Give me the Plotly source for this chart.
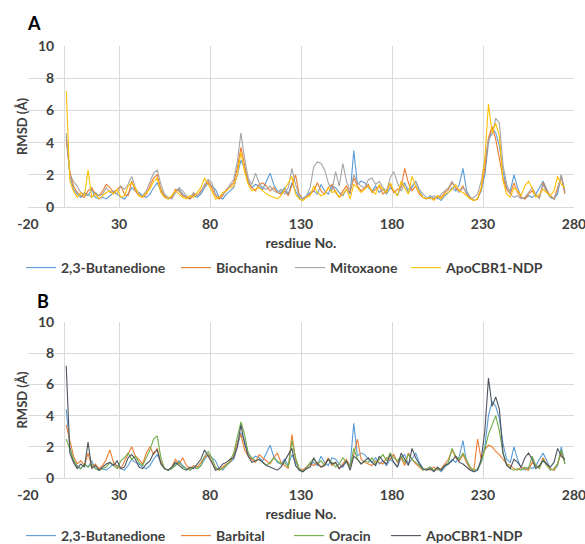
import plotly.graph_objects as go

# ---------------- data (RMSD in Å per residue) ----------------
residues = list(range(1, 276, 2))

butanedione = [
    4.4, 2.0, 1.1, 0.8, 0.6, 0.9, 0.7, 1.1, 0.6, 0.5,
    0.6, 0.5, 0.7, 0.9, 0.8, 0.6, 0.5, 0.8, 1.2, 1.0,
    0.9, 0.7, 0.6, 0.8, 1.2, 1.5, 1.0, 0.6, 0.5, 0.6,
    0.9, 1.1, 0.8, 0.6, 0.5, 0.7, 0.6, 0.8, 1.2, 1.5,
    1.3, 1.1, 0.6, 0.5, 0.8, 1.0, 1.2, 2.0, 2.9, 2.4,
    1.6, 1.2, 1.4, 1.3, 1.1, 1.6, 2.1, 1.4, 1.0, 0.9,
    1.2, 0.8, 1.5, 1.0, 0.6, 0.5, 0.7, 0.9, 1.0, 0.8,
    1.4, 1.0, 0.8, 1.3, 1.2, 0.9, 0.7, 1.1, 0.8, 3.5,
    1.4, 1.6, 1.5, 1.2, 1.0, 1.3, 0.9, 1.1, 0.8, 1.2,
    1.0, 0.7, 1.3, 1.5, 0.9, 1.2, 1.6, 1.0, 0.6, 0.5,
    0.7, 0.5, 0.6, 0.4, 0.7, 0.9, 1.2, 1.0, 1.4, 2.4,
    1.0, 0.6, 0.4, 0.5, 1.0, 2.0, 4.0, 4.9, 4.6, 3.8,
    2.2, 1.2, 1.0, 2.0, 1.2, 0.6, 0.5, 0.7, 0.6, 0.8,
    1.2, 1.6, 1.1, 0.6, 0.5, 0.8, 2.0, 0.9,
]

biochanin = [
    4.2, 2.2, 1.3, 0.9, 0.7, 0.6, 1.0, 1.2, 0.8, 0.7,
    1.0, 1.4, 1.2, 0.9, 1.1, 1.3, 0.8, 0.7, 1.6, 1.0,
    0.7, 0.6, 0.8, 1.3, 1.8, 2.0, 1.1, 0.7, 0.5, 0.6,
    1.1, 1.0, 0.7, 0.6, 0.5, 0.8, 0.7, 1.0, 1.3, 1.6,
    1.2, 0.7, 0.5, 0.7, 1.1, 1.3, 1.5, 2.4, 3.7, 2.6,
    1.5, 1.2, 1.0, 1.4, 1.5, 1.3, 1.0, 1.2, 0.9, 0.8,
    1.0, 0.7, 1.3, 2.0, 0.8, 0.5, 0.6, 0.8, 1.0, 1.5,
    1.0, 0.8, 1.2, 1.4, 0.9, 0.6, 1.0, 1.3, 0.9, 1.8,
    1.3, 1.0, 1.2, 1.4, 0.9, 1.1, 1.3, 0.8, 1.0, 1.4,
    0.9, 1.1, 1.2, 2.4, 1.5, 1.0, 1.3, 0.8, 0.6, 0.5,
    0.6, 0.5, 0.7, 0.6, 0.9, 1.1, 1.5, 1.2, 1.0, 1.3,
    0.8, 0.6, 0.4, 0.5, 1.1, 2.4, 4.3, 5.0, 4.2, 3.0,
    1.8, 1.1, 0.8, 1.5, 0.9, 0.6, 0.5, 0.8, 1.0, 0.7,
    0.6, 1.5, 1.0, 0.7, 0.5, 1.2, 1.9, 0.8,
]

mitoxaone = [
    4.6, 2.0, 1.6, 1.3, 0.9, 0.7, 0.8, 0.6, 0.9, 0.7,
    0.8, 1.2, 0.9, 1.0, 0.8, 1.3, 1.1, 1.4, 1.9, 1.2,
    0.8, 0.7, 1.0, 1.6, 2.1, 2.3, 1.4, 0.8, 0.6, 0.5,
    0.9, 1.2, 1.0, 0.7, 0.6, 0.9, 0.7, 0.9, 1.4, 1.7,
    1.5, 0.8, 0.6, 0.8, 1.0, 1.4, 1.7, 2.8, 4.6, 3.0,
    1.8, 1.4, 2.1, 1.5, 1.2, 1.1, 1.3, 1.0, 0.9, 1.1,
    0.8, 1.2, 2.4, 1.4, 0.7, 0.5, 0.7, 1.2, 2.5, 2.8,
    2.7, 2.3, 1.5, 1.0, 2.2, 1.3, 2.7, 1.6, 1.0, 2.0,
    1.5, 1.3, 1.2, 1.7, 1.8, 1.4, 1.6, 1.2, 1.0, 1.8,
    2.2, 1.5, 1.0, 1.4, 1.1, 1.3, 1.6, 1.1, 0.8, 0.6,
    0.5, 0.7, 0.5, 0.8, 1.0, 1.2, 1.6, 1.1, 0.9, 1.2,
    0.9, 0.5, 0.6, 0.8, 1.6, 3.0, 4.2, 4.5, 5.5, 5.2,
    2.6, 1.4, 0.8, 0.6, 0.7, 0.5, 0.6, 0.9, 1.2, 0.8,
    0.5, 1.4, 0.9, 0.6, 0.5, 1.0, 2.0, 1.0,
]

apo_ndp = [
    7.2, 1.6, 1.0, 0.6, 0.9, 0.7, 2.3, 0.6, 0.8, 0.5,
    0.7, 0.9, 1.0, 0.8, 1.1, 0.6, 0.7, 1.3, 1.5, 1.2,
    0.7, 0.6, 0.9, 1.1, 1.6, 1.8, 0.9, 0.6, 0.5, 0.7,
    1.0, 0.8, 0.6, 0.5, 0.7, 0.6, 0.9, 1.2, 1.8, 1.4,
    1.0, 0.5, 0.6, 0.9, 1.0, 1.2, 1.3, 2.0, 3.4, 2.2,
    1.4, 1.0, 1.1, 1.2, 1.0, 0.8, 0.7, 0.6, 0.5, 0.7,
    1.1, 1.5, 1.9, 0.8, 0.5, 0.4, 0.6, 0.7, 1.3, 0.9,
    0.7, 0.8, 1.2, 0.9, 1.0, 0.6, 0.8, 1.1, 0.5, 1.4,
    1.2, 0.9, 1.1, 1.3, 1.0, 0.8, 1.4, 1.1, 0.9, 1.5,
    1.0, 0.7, 1.6, 1.2, 0.8, 1.9, 1.3, 0.9, 0.6, 0.5,
    0.6, 0.4, 0.7, 0.5, 0.8, 0.9, 1.1, 1.4, 1.0, 0.9,
    0.7, 0.5, 0.4, 0.5, 1.2, 3.0, 6.4, 4.6, 5.2, 4.4,
    1.6, 0.8, 0.6, 1.2, 1.0, 0.7, 1.3, 1.6, 1.2, 0.6,
    0.8, 1.1, 0.9, 0.7, 1.0, 1.9, 1.4, 1.2,
]

barbital = [
    3.4, 2.4, 1.4, 0.9, 1.1, 0.8, 1.6, 0.7, 0.9, 0.6,
    0.8, 1.2, 1.8, 1.0, 0.7, 0.6, 1.1, 1.5, 2.0, 1.4,
    1.2, 0.9, 1.6, 2.0, 1.5, 1.9, 1.0, 0.6, 0.5, 0.7,
    1.2, 0.9, 1.3, 0.8, 0.6, 0.8, 0.7, 1.0, 1.3, 1.5,
    1.0, 0.6, 0.5, 0.7, 0.9, 1.0, 1.4, 2.3, 2.8, 1.8,
    1.4, 1.2, 1.0, 1.5, 1.3, 1.1, 0.9, 1.3, 1.6, 1.0,
    0.8, 0.6, 2.8, 1.2, 0.6, 0.5, 0.7, 0.9, 0.8, 1.0,
    0.7, 0.9, 1.3, 0.8, 1.0, 0.6, 0.9, 1.2, 0.7, 1.5,
    2.5, 1.2, 1.0, 0.9, 0.8, 1.1, 1.0, 0.9, 1.3, 1.2,
    1.5, 1.0, 1.3, 0.8, 1.6, 1.2, 0.9, 0.7, 0.5, 0.6,
    0.5, 0.7, 0.5, 0.6, 0.9, 1.2, 1.8, 1.3, 1.1, 1.5,
    1.0, 0.6, 0.5, 2.5, 1.2, 1.8, 2.1, 2.0, 1.7, 1.5,
    1.2, 0.9, 0.8, 0.6, 0.5, 0.7, 0.6, 0.5, 1.0, 0.8,
    0.7, 1.3, 0.9, 0.6, 0.5, 0.9, 1.6, 1.0,
]

oracin = [
    2.5, 1.8, 1.2, 0.7, 0.6, 0.9, 0.7, 0.9, 0.6, 0.5,
    0.6, 0.7, 1.0, 0.8, 0.6, 1.1, 1.3, 1.6, 1.2, 1.4,
    1.0, 0.8, 1.3, 1.8, 2.5, 2.7, 1.3, 0.6, 0.5, 0.6,
    0.8, 1.0, 0.7, 0.6, 0.5, 0.7, 0.6, 0.8, 1.4, 1.7,
    1.3, 0.7, 0.5, 0.6, 0.8, 1.1, 1.6, 2.6, 3.6, 2.8,
    1.6, 1.3, 1.1, 1.2, 1.0, 0.8, 1.0, 1.3, 1.1, 0.9,
    1.0, 0.7, 2.4, 1.3, 0.6, 0.4, 0.6, 1.0, 1.2, 0.9,
    1.1, 0.8, 1.2, 1.0, 0.7, 0.9, 1.3, 1.0, 0.7, 1.9,
    1.2, 0.9, 1.1, 1.0, 1.3, 0.9, 1.2, 1.5, 1.1, 1.6,
    1.3, 1.1, 1.4, 1.0, 1.5, 1.2, 1.0, 0.8, 0.5, 0.6,
    0.7, 0.5, 0.6, 0.5, 0.8, 1.0, 1.9, 1.4, 1.2, 1.6,
    1.1, 0.7, 0.5, 0.6, 1.0, 1.8, 2.8, 3.4, 4.0, 3.0,
    1.6, 0.9, 0.6, 0.5, 0.6, 0.5, 0.7, 0.6, 1.4, 0.8,
    0.6, 1.2, 0.8, 0.5, 0.6, 0.9, 1.8, 0.9,
]

x_ticks = [-20, 30, 80, 130, 180, 230, 280]
x_tick_labels = ["-20", "30", "80", "130", "180", "230", "280"]
y_ticks = [0, 2, 4, 6, 8, 10]

# ---------------- layout helpers ----------------
W, H = 585, 544
FONT = "Lato, 'Open Sans', 'Liberation Sans', sans-serif"
TXT = "#404040"
GRID = "#d9d9d9"


def px(v):
    return v / W


def py(v):
    return 1 - v / H


panel_a = [
    ("2,3-Butanedione", butanedione, "#5B9BD5"),
    ("Biochanin", biochanin, "#ED7D31"),
    ("Mitoxaone", mitoxaone, "#A5A5A5"),
    ("ApoCBR1-NDP", apo_ndp, "#FFC000"),
]
panel_b = [
    ("2,3-Butanedione", butanedione, "#5B9BD5"),
    ("Barbital", barbital, "#ED7D31"),
    ("Oracin", oracin, "#70AD47"),
    ("ApoCBR1-NDP", apo_ndp, "#4D5560"),
]

legend_text_x_a = [62, 217, 331, 447]
legend_text_x_b = [62, 217, 330, 427]

fig = go.Figure()
legends = {}
k = 1
for panel, (xa, ya), text_xs, leg_y in [
    (panel_a, ("x", "y"), legend_text_x_a, 268),
    (panel_b, ("x2", "y2"), legend_text_x_b, 536),
]:
    for (name, vals, color), tx in zip(panel, text_xs):
        key = "legend" if k == 1 else f"legend{k}"
        fig.add_trace(go.Scatter(
            x=residues, y=vals, mode="lines", name=name,
            line=dict(color=color, width=1.1),
            xaxis=xa, yaxis=ya, legend=key,
        ))
        legends[key] = dict(
            x=px(tx - 41), y=py(leg_y), xanchor="left", yanchor="middle",
            orientation="h", bgcolor="rgba(0,0,0,0)", itemwidth=30,
            font=dict(family=FONT, size=14, color=TXT, weight="bold"),
        )
        k += 1

tickfont = dict(family=FONT, size=14, color=TXT, weight="bold")
titlefont = dict(family=FONT, size=14, color=TXT, weight="bold")


def xaxis_cfg(anchor):
    return dict(
        domain=[px(28), px(574)], range=[-20, 280],
        tickvals=x_ticks, ticktext=x_tick_labels,
        showgrid=True, gridcolor=GRID, gridwidth=1,
        showline=True, linecolor=GRID, linewidth=1,
        zeroline=False, ticks="", tickfont=tickfont,
        ticklabelstandoff=4, ticklabeloverflow="allow", anchor=anchor,
        title=dict(text="resdiue No.", font=titlefont, standoff=7),
    )


def yaxis_cfg(dom):
    return dict(
        domain=dom, range=[0, 10], tickvals=y_ticks,
        showgrid=True, gridcolor=GRID, gridwidth=1,
        showline=True, linecolor=GRID, linewidth=1,
        zeroline=False, ticks="", tickfont=tickfont,
        anchor="free", position=px(64), ticklabelstandoff=7,
        title=dict(text="RMSD (Å)", font=dict(family=FONT, size=13, color=TXT, weight="bold"), standoff=6),
    )


fig.update_layout(
    width=W, height=H,
    margin=dict(l=0, r=0, t=0, b=0, autoexpand=False),
    paper_bgcolor="white", plot_bgcolor="white",
    showlegend=True,
    xaxis=xaxis_cfg("y"),
    yaxis=yaxis_cfg([py(207), py(46)]),
    xaxis2=xaxis_cfg("y2"),
    yaxis2=yaxis_cfg([py(478), py(322)]),
    annotations=[
        dict(text="A", x=px(25), y=py(23), xref="paper", yref="paper",
             xanchor="left", yanchor="middle", showarrow=False,
             font=dict(family=FONT, size=18, color="#000000", weight="bold")),
        dict(text="B", x=px(35), y=py(301), xref="paper", yref="paper",
             xanchor="left", yanchor="middle", showarrow=False,
             font=dict(family=FONT, size=18, color="#000000", weight="bold")),
    ],
    **legends,
)

fig.write_html(
    "out.html",
    config={"displayModeBar": False},
    post_script="document.body.style.margin='0px';document.body.style.overflow='hidden';",
)
